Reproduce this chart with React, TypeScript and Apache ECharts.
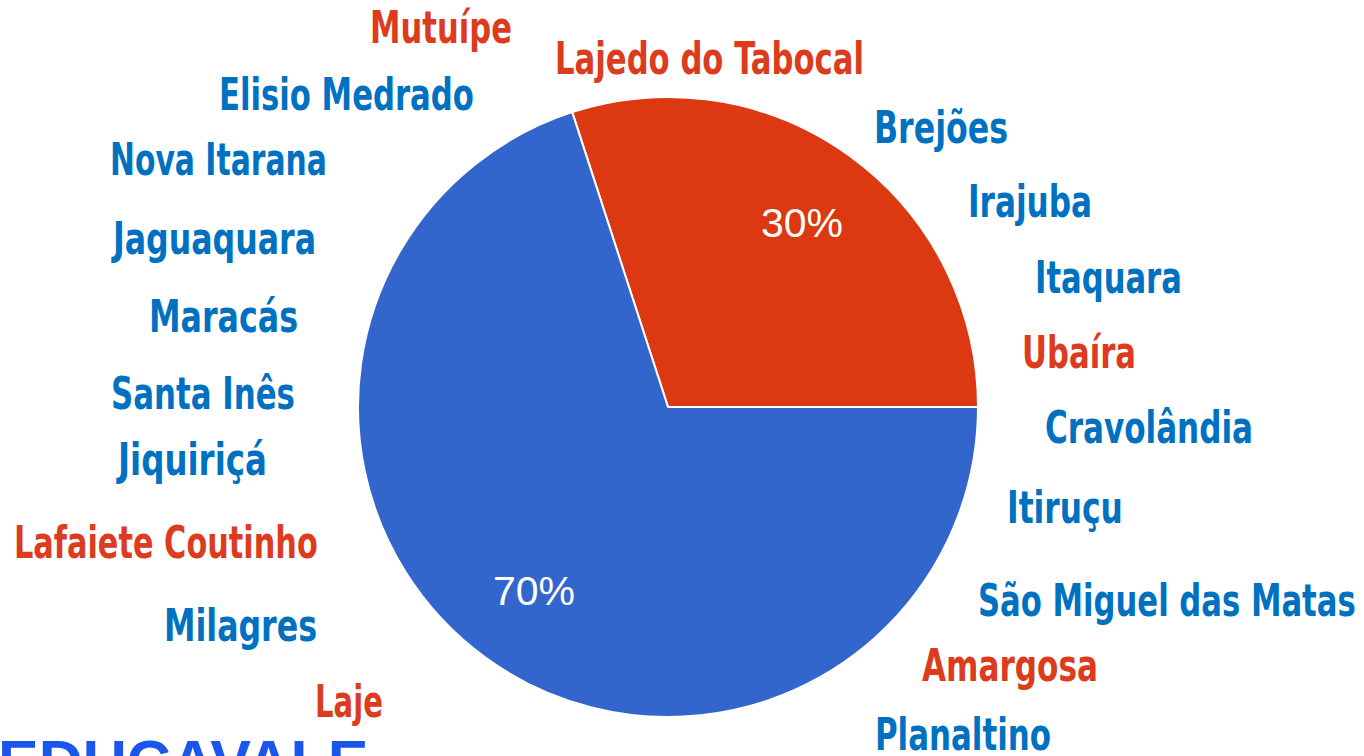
import React, { useEffect, useRef } from "react";
import * as echarts from "echarts";

// ---- data ----
const sliceNames = ["Vermelho", "Azul"];
const redCities = ["Mutuípe", "Lajedo do Tabocal", "Ubaíra", "Lafaiete Coutinho", "Amargosa", "Laje"];
const blueCities = [
  "Elisio Medrado", "Brejões", "Nova Itarana", "Irajuba", "Jaguaquara", "Itaquara",
  "Maracás", "Santa Inês", "Cravolândia", "Jiquiriçá", "Itiruçu", "São Miguel das Matas",
  "Milagres", "Planaltino",
];
const sliceValues = [redCities.length, blueCities.length];
const brandText = "EDUCAVALE";

// ---- layout (free labels: left x, right x, cap-centre y) ----
const labelBox: Record<string, [number, number, number]> = {
  "Mutuípe": [370, 512, 27],
  "Lajedo do Tabocal": [555, 864, 58],
  "Elisio Medrado": [219, 474, 94],
  "Brejões": [874, 1008, 128],
  "Nova Itarana": [110, 327, 159],
  "Irajuba": [968, 1092, 201],
  "Jaguaquara": [113, 316, 239],
  "Itaquara": [1035, 1182, 277],
  "Maracás": [149, 298, 317],
  "Ubaíra": [1022, 1136, 352],
  "Santa Inês": [111, 295, 393],
  "Cravolândia": [1045, 1253, 427],
  "Jiquiriçá": [118, 267, 460],
  "Itiruçu": [1007, 1123, 507],
  "Lafaiete Coutinho": [14, 318, 542],
  "São Miguel das Matas": [978, 1356, 600],
  "Milagres": [164, 317, 626],
  "Amargosa": [922, 1098, 665],
  "Laje": [315, 383, 702],
  "Planaltino": [875, 1051, 734],
};

const RED = "#dc3912";
const BLUE = "#3366cc";
const LABEL_RED = "#dd3b1e";
const LABEL_BLUE = "#0071c1";
const NARROW = "'Liberation Sans Narrow', 'DejaVu Sans Condensed', 'DejaVu Sans', sans-serif";
const CITY_FONT = `bold 44px ${NARROW}`;

export default function App() {
  const ref = useRef<HTMLDivElement>(null);
  useEffect(() => {
    if (!ref.current) return;
    const chart = echarts.init(ref.current, undefined, { renderer: "svg" });
    const total = sliceValues.reduce((a, b) => a + b, 0);
    const pieData = sliceNames.map((n, i) => ({
      name: n,
      value: sliceValues[i],
      itemStyle: { color: i === 0 ? RED : BLUE },
    }));

    const canvas = document.createElement("canvas");
    const ctx = canvas.getContext("2d") as CanvasRenderingContext2D;
    ctx.font = CITY_FONT;

    const cityTexts = [
      ...redCities.map((c) => ({ c, color: LABEL_RED })),
      ...blueCities.map((c) => ({ c, color: LABEL_BLUE })),
    ].map(({ c, color }) => {
      const [x0, x1, y] = labelBox[c];
      const w = ctx.measureText(c).width || 1;
      return {
        type: "text",
        x: x0,
        y,
        scaleX: (x1 - x0) / w,
        scaleY: 1.02,
        style: {
          text: c,
          fill: color,
          font: CITY_FONT,
          textAlign: "left",
          textVerticalAlign: "middle",
        },
      };
    });

    chart.setOption({
      animation: false,
      backgroundColor: "#ffffff",
      series: [
        {
          type: "pie",
          center: [668, 407],
          radius: [0, 310],
          startAngle: 108,
          clockwise: true,
          silent: true,
          label: { show: false },
          labelLine: { show: false },
          itemStyle: { borderColor: "#ffffff", borderWidth: 2 },
          data: pieData,
        },
        {
          type: "pie",
          center: [668, 407],
          radius: [140, 310],
          startAngle: 108,
          clockwise: true,
          silent: true,
          z: 5,
          itemStyle: { color: "rgba(0,0,0,0)", borderWidth: 0 },
          label: {
            show: true,
            position: "inside",
            color: "#ffffff",
            fontSize: 41,
            fontFamily: "'Liberation Sans', Arial, sans-serif",
            fontWeight: "normal",
            formatter: (p: any) => Math.round((p.value / total) * 100) + "%",
          },
          labelLine: { show: false },
          data: sliceNames.map((n, i) => ({ name: n, value: sliceValues[i] })),
        },
      ],
      graphic: [
        ...cityTexts,
        {
          type: "text",
          x: -2,
          y: 762,
          style: {
            text: brandText,
            fill: "#1a56ec",
            font: "bold 61px 'Liberation Sans', Arial, sans-serif",
            textAlign: "left",
            textVerticalAlign: "middle",
          },
        },
      ],
    });
    return () => chart.dispose();
  }, []);
  return (
    <div
      ref={ref}
      style={{ position: "fixed", left: 0, top: 0, width: 1364, height: 756 }}
    />
  );
}
